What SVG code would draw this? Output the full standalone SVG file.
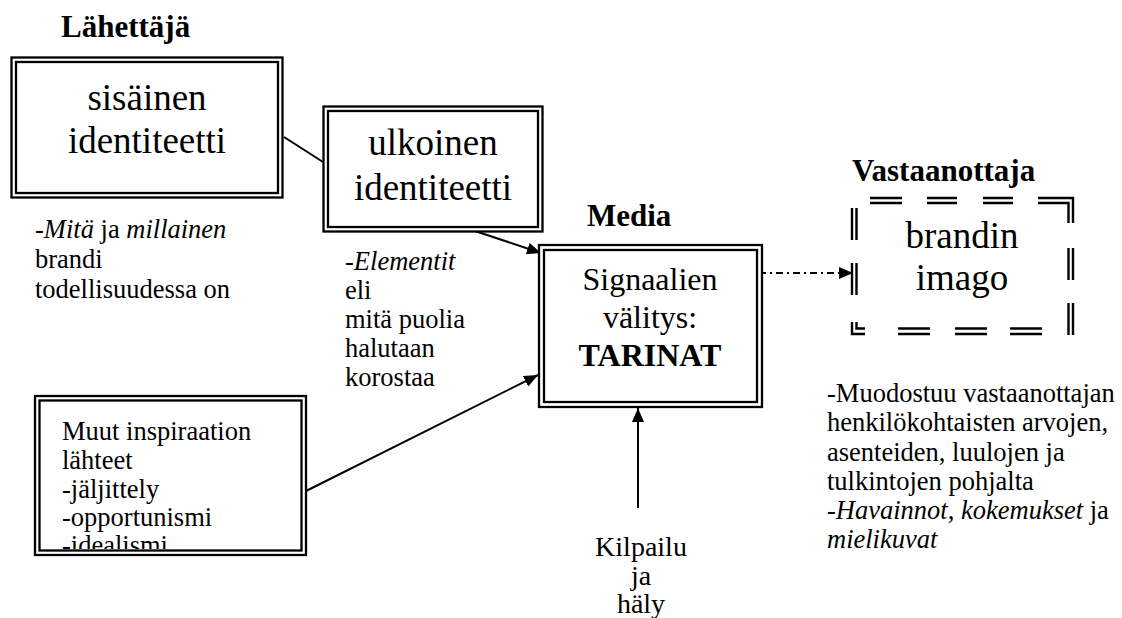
<svg xmlns="http://www.w3.org/2000/svg" width="1122" height="618" viewBox="0 0 1122 618" font-family="'Liberation Serif', 'Times New Roman', serif">
  <defs>
    <style>
      text { font-family: "Liberation Serif", "Times New Roman", serif; fill: #000; }
      .hdr { font-weight: bold; font-size: 31px; }
      .big { font-size: 37px; text-anchor: middle; }
      .mid { font-size: 32px; text-anchor: middle; }
      .sm { font-size: 26.5px; }
      .it { font-style: italic; }
      .frame { fill: #fff; stroke: #000; stroke-width: 2.3; }
      .frame-in { fill: none; stroke: #000; stroke-width: 2.3; }
      .dbl { fill: none; stroke: #000; stroke-width: 2.4; }
      .conn { fill: none; stroke: #000; stroke-width: 2; }
    </style>
    <marker id="arrow" viewBox="0 0 14 12" refX="14" refY="6" markerWidth="14" markerHeight="12" markerUnits="userSpaceOnUse" orient="auto">
      <path d="M0,0 L14,6 L0,12 Z" fill="#000"/>
    </marker>
    <clipPath id="muut-clip">
      <rect x="40" y="400" width="262" height="149"/>
    </clipPath>
  </defs>

  <!-- section headings -->
  <text class="hdr" x="61" y="37">Lähettäjä</text>
  <text class="hdr" x="587" y="226">Media</text>
  <text class="hdr" x="852" y="181">Vastaanottaja</text>

  <!-- connectors -->
  <g id="connectors">
    <line class="conn" x1="284" y1="137" x2="323" y2="162"/>
    <line class="conn" x1="469" y1="229" x2="541" y2="253" marker-end="url(#arrow)"/>
    <line class="conn" x1="304" y1="492" x2="538" y2="375" marker-end="url(#arrow)"/>
    <line class="conn" x1="638" y1="508" x2="638" y2="408" marker-end="url(#arrow)"/>
    <line class="conn" x1="759" y1="273" x2="853" y2="273" stroke-dasharray="7 4 2 4" marker-end="url(#arrow)"/>
  </g>

  <!-- sisäinen identiteetti -->
  <g id="node-sisainen">
    <rect class="frame" x="11.5" y="57.5" width="271" height="140"/>
    <rect class="frame-in" x="16" y="62" width="262" height="131"/>
    <text class="big" x="147" y="110">sisäinen</text>
    <text class="big" x="147" y="153">identiteetti</text>
  </g>

  <!-- ulkoinen identiteetti -->
  <g id="node-ulkoinen">
    <rect class="frame" x="323.5" y="106.5" width="219" height="125"/>
    <rect class="frame-in" x="328" y="111" width="210" height="116"/>
    <text class="big" x="433" y="155">ulkoinen</text>
    <text class="big" x="433" y="200">identiteetti</text>
  </g>

  <!-- Media: signaalien välitys -->
  <g id="node-media">
    <rect class="frame" x="539" y="245" width="223" height="162"/>
    <rect class="frame-in" x="544" y="250" width="213" height="152"/>
    <text class="mid" x="650" y="290">Signaalien</text>
    <text class="mid" x="650" y="328">välitys:</text>
    <text class="mid" x="650" y="366" font-weight="bold">TARINAT</text>
  </g>

  <!-- muut inspiraation lähteet -->
  <g id="node-muut">
    <rect class="frame" x="35" y="396" width="271" height="159"/>
    <rect class="frame-in" x="39.5" y="400.5" width="262" height="150"/>
    <g clip-path="url(#muut-clip)">
      <text class="sm" x="62" y="440">Muut inspiraation</text>
      <text class="sm" x="62" y="469">lähteet</text>
      <text class="sm" x="62" y="498">-jäljittely</text>
      <text class="sm" x="62" y="526">-opportunismi</text>
      <text class="sm" x="62" y="554">-idealismi</text>
    </g>
  </g>

  <!-- brandin imago (double dashed frame) -->
  <g id="node-imago">
    <path class="dbl" d="
      M870,198 H902 M927,198 H957 M983,198 H1013 M1038,198 H1073 V223
      M870,203 H902 M927,203 H957 M983,203 H1013 M1038,203 H1068.5 V223
      M1073,248 V280 M1068.5,248 V280
      M1073,303 V335 M1068.5,303 V335
      M852,208 V240 M856.5,208 V240
      M852,263 V295 M856.5,263 V295
      M852,322 V334 H865 M856.5,322 V328.5 H865
      M898,334 H930 M955,334 H987 M1010,334 H1042
      M898,328.5 H930 M955,328.5 H987 M1010,328.5 H1042"/>
    <text class="big" x="962" y="248">brandin</text>
    <text class="big" x="962" y="290">imago</text>
  </g>

  <!-- explanatory notes -->
  <g id="note-sisainen">
    <text class="sm" x="35" y="238">-<tspan class="it">Mitä</tspan> ja <tspan class="it">millainen</tspan></text>
    <text class="sm" x="35" y="268">brandi</text>
    <text class="sm" x="35" y="298">todellisuudessa on</text>
  </g>

  <g id="note-ulkoinen">
    <text class="sm" x="345" y="270">-<tspan class="it">Elementit</tspan></text>
    <text class="sm" x="345" y="299">eli</text>
    <text class="sm" x="345" y="328">mitä puolia</text>
    <text class="sm" x="345" y="357">halutaan</text>
    <text class="sm" x="345" y="386">korostaa</text>
  </g>

  <g id="note-kilpailu">
    <text x="641" y="556" font-size="28" text-anchor="middle">Kilpailu</text>
    <text x="641" y="585" font-size="28" text-anchor="middle">ja</text>
    <text x="641" y="613" font-size="28" text-anchor="middle">häly</text>
  </g>

  <g id="note-imago">
    <text class="sm" x="827" y="402">-Muodostuu vastaanottajan</text>
    <text class="sm" x="827" y="431">henkilökohtaisten arvojen,</text>
    <text class="sm" x="827" y="461">asenteiden, luulojen ja</text>
    <text class="sm" x="827" y="490">tulkintojen pohjalta</text>
    <text class="sm" x="827" y="519">-<tspan class="it">Havainnot</tspan>, <tspan class="it">kokemukset</tspan> ja</text>
    <text class="sm" x="827" y="548"><tspan class="it">mielikuvat</tspan></text>
  </g>
</svg>
